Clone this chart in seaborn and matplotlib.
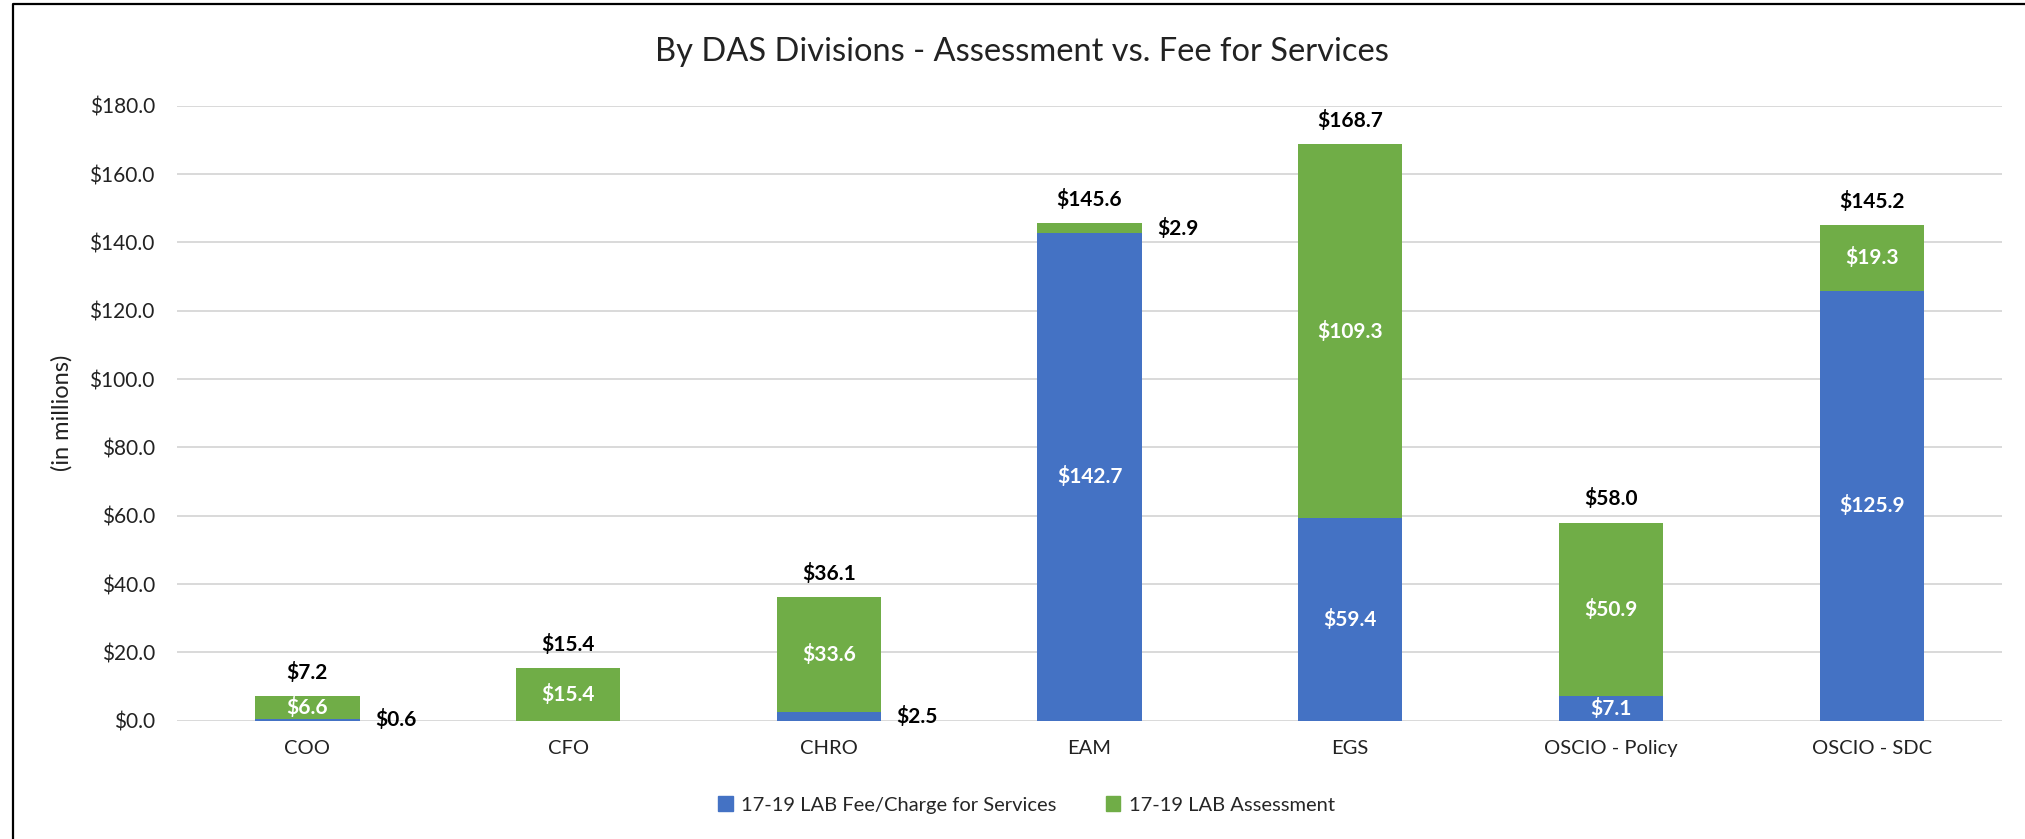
import matplotlib
matplotlib.use('Agg')
import matplotlib.pyplot as plt
import seaborn as sns
import pandas as pd
from matplotlib.lines import Line2D
from matplotlib.patches import Patch
from matplotlib.ticker import FuncFormatter

# data (in millions)
divisions = ['COO', 'CFO', 'CHRO', 'EAM', 'EGS', 'OSCIO - Policy', 'OSCIO - SDC']
fee = [0.6, 0.0, 2.5, 142.7, 59.4, 7.1, 125.9]
assessment = [6.6, 15.4, 33.6, 2.9, 109.3, 50.9, 19.3]
y_ticks = [0, 20, 40, 60, 80, 100, 120, 140, 160, 180]

fee_label = '17-19 LAB Fee/Charge for Services'
assess_label = '17-19 LAB Assessment'
blue = '#4472C4'
green = '#70AD47'

df = pd.DataFrame({'division': divisions, 'fee': fee, 'assessment': assessment})
df['total'] = df['fee'] + df['assessment']

sns.set_style('white')
plt.rcParams['font.family'] = ['Lato', 'DejaVu Sans']

W, H = 2025, 839
fig = plt.figure(figsize=(W / 100, H / 100), dpi=100)
ax = fig.add_axes([177 / W, 1 - 720.7 / H, (2002 - 177) / W, (720.7 - 105.8) / H])

# stacked bars: total in green, fee drawn over it in blue
sns.barplot(data=df, x='division', y='total', color=green, width=0.4,
            saturation=1, linewidth=0, ax=ax, zorder=2)
sns.barplot(data=df, x='division', y='fee', color=blue, width=0.4,
            saturation=1, linewidth=0, ax=ax, zorder=3)

ax.set_ylim(0, 180)
ax.set_xlim(-0.5, 6.5)
ax.set_yticks(y_ticks)
ax.yaxis.set_major_formatter(FuncFormatter(lambda v, p: f'${v:.1f}'))
ax.yaxis.grid(True, color='#D9D9D9', linewidth=1.4)
ax.set_axisbelow(True)
for s in ax.spines.values():
    s.set_visible(False)
ax.tick_params(axis='y', length=0, pad=16, labelsize=15, labelcolor='#222222')
ax.tick_params(axis='x', length=0, pad=14, labelsize=14.5, labelcolor='#222222')
ax.set_xlabel('')
ax.set_ylabel('(in millions)', fontsize=17, color='#222222', labelpad=12)

# labels
for i, row in df.iterrows():
    ax.annotate(f'${row.total:.1f}', (i, row.total), xytext=(0, 17),
                textcoords='offset points', ha='center', va='center',
                fontsize=15, fontweight='bold', color='black')
    for val, base in [(row.fee, 0), (row.assessment, row.fee)]:
        if val == 0:
            continue
        if val < 5:
            ax.annotate(f'${val:.1f}', (i + 0.2, base + val / 2), xytext=(11, 0),
                        textcoords='offset points', ha='left', va='center',
                        fontsize=15, fontweight='bold', color='black', zorder=5)
        else:
            ax.text(i, base + val / 2, f'${val:.1f}', ha='center', va='center',
                    fontsize=15, fontweight='bold', color='white', zorder=5)

fig.text(1022 / W, 1 - 51.7 / H, 'By DAS Divisions - Assessment vs. Fee for Services',
         ha='center', va='center', fontsize=23.5, color='#222222')

handles = [Patch(color=blue, label=fee_label), Patch(color=green, label=assess_label)]
fig.legend(handles=handles, loc='center', bbox_to_anchor=(1026.5 / W, 1 - 805 / H),
           ncol=2, frameon=False, handlelength=0.7, handleheight=0.7,
           handletextpad=0.4, columnspacing=2.5, fontsize=14.5)

# chart border (left and top edges visible)
fig.add_artist(Line2D([13 / W, 13 / W, 1], [0, 1 - 4 / H, 1 - 4 / H],
                      color='black', lw=1.6, transform=fig.transFigure))

fig.savefig('out.png', dpi=100)
